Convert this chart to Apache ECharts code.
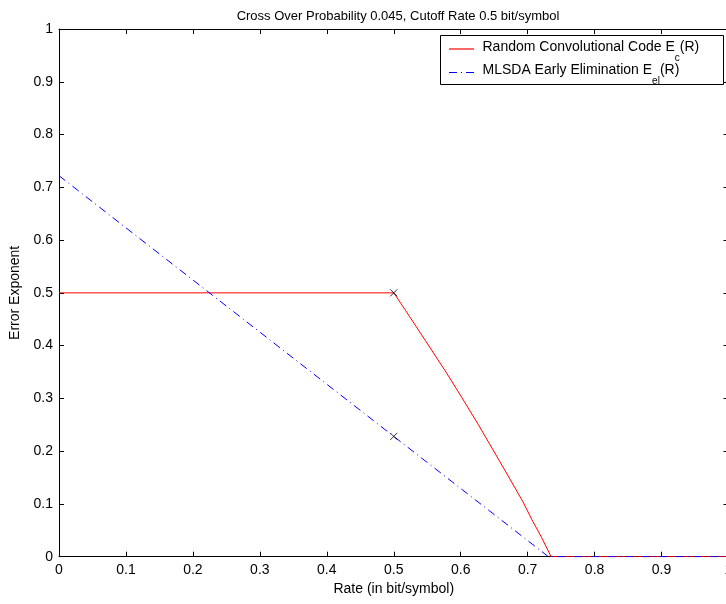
<!DOCTYPE html>
<html><head><meta charset="utf-8">
<script src="https://cdn.jsdelivr.net/npm/echarts@6/dist/echarts.min.js"></script>
<style>html,body{margin:0;padding:0;background:#fff;}#c{width:726px;height:604px;}</style>
</head><body><div id="c"></div>
<script>
var titleText = 'Cross Over Probability 0.045, Cutoff Rate 0.5 bit/symbol';
var xName = 'Rate (in bit/symbol)';
var yName = 'Error Exponent';
var xTicks = [0,0.1,0.2,0.3,0.4,0.5,0.6,0.7,0.8,0.9,1];
var yTicks = [0,0.1,0.2,0.3,0.4,0.5,0.6,0.7,0.8,0.9,1];
var redRate = [0, 0.5, 0.518, 0.547, 0.579, 0.602, 0.626, 0.665, 0.693, 0.706, 0.721, 0.735, 1];
var redExp  = [0.5, 0.5, 0.466, 0.410, 0.348, 0.301, 0.251, 0.166, 0.104, 0.071, 0.036, 0, 0];
var blueRate = [0, 0.5, 0.731, 1];
var blueExp  = [0.722, 0.228, 0, 0];
var markRate = [0.5, 0.5];
var markExp  = [0.5, 0.228];
var legendNames = ['Random Convolutional Code E', 'MLSDA Early Elimination E'];
var legendSubs = ['c', 'el'];
var legendTail = '(R)';

function pairs(a, b){ return a.map(function(v,i){ return [v, b[i]]; }); }
var FONT = "'Liberation Sans', Arial, Helvetica, sans-serif";
var chart = echarts.init(document.getElementById('c'), null, {renderer:'canvas'});
function fmt(v){ return String(Math.round(v*10)/10); }
var ctx = document.createElement('canvas').getContext('2d');
function tw(t, size){ ctx.font = size + 'px ' + FONT; return ctx.measureText(t).width; }
var LX = 482.5, LY = [47, 70];
var legendGraphics = [
  {type:'rect', shape:{x:440.5, y:35.5, width:283, height:49}, style:{fill:'#fff', stroke:'#000', lineWidth:1}, z:10},
  {type:'line', shape:{x1:449, y1:49, x2:474, y2:49}, style:{stroke:'#ff0000', lineWidth:1.2}, z:12},
  {type:'line', shape:{x1:449, y1:72.5, x2:474, y2:72.5}, style:{stroke:'#0000ff', lineWidth:1, lineDash:[8,4,1,4]}, z:12}
];
legendNames.forEach(function(n, i){
  var w = tw(n, 14), s = tw(legendSubs[i], 10);
  legendGraphics.push({type:'text', x:LX, y:LY[i], z:11, style:{text:n, fill:'#000', font:'14px '+FONT, textVerticalAlign:'middle'}});
  legendGraphics.push({type:'text', x:LX+w, y:LY[i]+11, z:11, style:{text:legendSubs[i], fill:'#000', font:'10px '+FONT, textVerticalAlign:'middle'}});
  legendGraphics.push({type:'text', x:LX+w+s, y:LY[i], z:11, style:{text:legendTail, fill:'#000', font:'14px '+FONT, textVerticalAlign:'middle'}});
});
var axisCommon = {
  min: 0, max: 1, interval: 0.1,
  axisLine: {show:true, onZero:false, lineStyle:{color:'#000', width:1}},
  axisTick: {show:true, inside:true, length:5, lineStyle:{color:'#000', width:1}},
  splitLine: {show:false}
};
chart.setOption({
  animation: false,
  backgroundColor: '#fff',
  textStyle: {fontFamily: FONT},
  title: {text: titleText, left: 393, top: 5, textAlign: 'center',
    textStyle: {fontFamily: FONT, fontSize: 13, fontWeight: 'normal', color: '#000'}},
  grid: {left: 59, top: 29, width: 669.5, height: 527.7, containLabel: false, outerBoundsMode: 'none'},
  xAxis: [
    Object.assign({}, axisCommon, {type:'value', position:'bottom', name: xName, nameLocation:'middle', nameGap: 25,
      nameTextStyle:{fontFamily:FONT, fontSize:14, color:'#000'},
      axisLabel:{show:true, margin:6, color:'#000', fontFamily:FONT, fontSize:14, formatter: fmt}}),
    Object.assign({}, axisCommon, {type:'value', position:'top', axisLabel:{show:false}})
  ],
  yAxis: [
    Object.assign({}, axisCommon, {type:'value', position:'left', name: yName, nameLocation:'middle', nameGap: 30,
      nameTextStyle:{fontFamily:FONT, fontSize:14, color:'#000'},
      axisLabel:{show:true, margin:6, color:'#000', fontFamily:FONT, fontSize:14, formatter: fmt}}),
    Object.assign({}, axisCommon, {type:'value', position:'right', axisLabel:{show:false}})
  ],
  series: [
    {type:'line', name:'Ec', data: pairs(redRate, redExp), showSymbol:false, symbol:'none',
      lineStyle:{color:'#ff0000', width:1}, z:2},
    {type:'line', name:'Eel', data: pairs(blueRate, blueExp), showSymbol:false, symbol:'none',
      lineStyle:{color:'#0000ff', width:1, type:[8,4,1,4]}, z:3},
    {type:'scatter', name:'marks', data: pairs(markRate, markExp), symbol:'path://M0,0L10,10M10,0L0,10', symbolSize:7,
      itemStyle:{color:'rgba(0,0,0,0)', borderColor:'#000', borderWidth:1}, z:4}
  ],
  graphic: legendGraphics
});
</script></body></html>
